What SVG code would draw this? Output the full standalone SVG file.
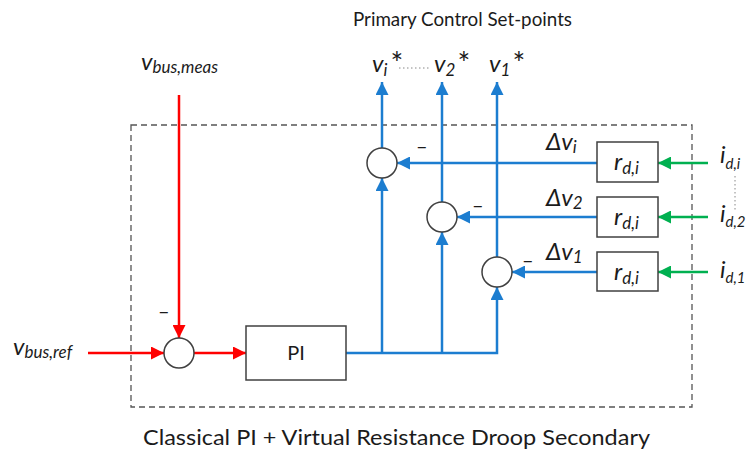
<svg xmlns="http://www.w3.org/2000/svg" width="747" height="457" viewBox="0 0 747 457">
<style>
  .t{font-family:Lato,"Liberation Sans",sans-serif;fill:#1b1b1b}
  .m{font-family:Lato,"Liberation Sans",sans-serif;font-style:italic;fill:#1b1b1b;font-size:24px}
  .s{font-size:17px}
  .si{font-size:15px}
  .ast{font-style:normal;font-size:30px}
  .minus{font-family:Lato,"Liberation Sans",sans-serif;font-size:20px;fill:#1b1b1b}
  .blk{fill:#fff;stroke:#404040;stroke-width:1.5}
  .sum{fill:#fff;stroke:#404040;stroke-width:1.5}
  .red{fill:none;stroke:#ff0000;stroke-width:2.5}
  .blue{fill:none;stroke:#1c7dd0;stroke-width:2.5}
  .green{fill:none;stroke:#00b050;stroke-width:2.5}
  .dot{fill:none;stroke:#888;stroke-width:1;stroke-dasharray:1.5 2.5}
</style>
<defs>
  <marker id="ar" markerUnits="userSpaceOnUse" markerWidth="13" markerHeight="13" refX="13" refY="6.5" orient="auto"><path d="M0,0 L13,6.5 L0,13 z" fill="#ff0000"/></marker>
  <marker id="ab" markerUnits="userSpaceOnUse" markerWidth="13" markerHeight="13" refX="13" refY="6.5" orient="auto"><path d="M0,0 L13,6.5 L0,13 z" fill="#1c7dd0"/></marker>
  <marker id="ag" markerUnits="userSpaceOnUse" markerWidth="13" markerHeight="13" refX="13" refY="6.5" orient="auto"><path d="M0,0 L13,6.5 L0,13 z" fill="#00b050"/></marker>
</defs>
<rect width="747" height="457" fill="#fff"/>

<rect id="boundary" x="131" y="125" width="561" height="282" fill="none" stroke="#555" stroke-width="1.3" stroke-dasharray="6 4"/>

<g id="connectors">
  <path class="red" d="M88,353 H164" marker-end="url(#ar)"/>
  <path class="red" d="M179,95 V338" marker-end="url(#ar)"/>
  <path class="red" d="M194,353 H246" marker-end="url(#ar)"/>
  <path class="blue" d="M346,353 H497 V287" marker-end="url(#ab)"/>
  <path class="blue" d="M382,353 V178" marker-end="url(#ab)"/>
  <path class="blue" d="M442,353 V232" marker-end="url(#ab)"/>
  <path class="blue" d="M382,148 V82" marker-end="url(#ab)"/>
  <path class="blue" d="M442,202 V82" marker-end="url(#ab)"/>
  <path class="blue" d="M497,257 V82" marker-end="url(#ab)"/>
  <path class="blue" d="M597,163 H397" marker-end="url(#ab)"/>
  <path class="blue" d="M597,217 H457" marker-end="url(#ab)"/>
  <path class="blue" d="M597,272 H512" marker-end="url(#ab)"/>
  <path class="green" d="M708,163 H658" marker-end="url(#ag)"/>
  <path class="green" d="M708,217 H658" marker-end="url(#ag)"/>
  <path class="green" d="M708,272 H658" marker-end="url(#ag)"/>
  <path class="dot" d="M399,68 H431"/>
  <path class="dot" d="M735,176 V210"/>
</g>

<g id="sum0"><circle class="sum" cx="179" cy="353" r="15"/><text class="minus" x="158" y="318">–</text></g>
<g id="pi"><rect class="blk" x="246" y="326" width="100" height="54"/><text class="t" x="296" y="360" font-size="20" text-anchor="middle">PI</text></g>
<g id="sum_i"><circle class="sum" cx="382" cy="163" r="15"/><text class="minus" x="416" y="153">–</text></g>
<g id="sum_2"><circle class="sum" cx="442" cy="217" r="15"/><text class="minus" x="472" y="212">–</text></g>
<g id="sum_1"><circle class="sum" cx="497" cy="272" r="15"/><text class="minus" x="522" y="267">–</text></g>

<g id="rd_i"><rect class="blk" x="597" y="142" width="61" height="40"/><text class="m" x="614" y="170">r<tspan class="s" dy="4">d,i</tspan></text></g>
<g id="rd_2"><rect class="blk" x="597" y="197" width="61" height="40"/><text class="m" x="614" y="225">r<tspan class="s" dy="4">d,i</tspan></text></g>
<g id="rd_1"><rect class="blk" x="597" y="252" width="61" height="39"/><text class="m" x="614" y="280">r<tspan class="s" dy="4">d,i</tspan></text></g>

<g id="labels">
  <text class="t" x="353" y="26" font-size="19" textLength="219" lengthAdjust="spacingAndGlyphs">Primary Control Set-points</text>
  <text class="m" x="141" y="70">v<tspan class="s" dy="3">bus,meas</tspan></text>
  <text class="m" x="13" y="355">v<tspan class="s" dy="3">bus,ref</tspan></text>
  <text class="m" x="372" y="72">v<tspan class="s" dy="4">i</tspan><tspan class="ast" dx="3" dy="-2">*</tspan></text>
  <text class="m" x="434" y="72">v<tspan class="s" dy="4">2</tspan><tspan class="ast" dx="2" dy="-2">*</tspan></text>
  <text class="m" x="489" y="72">v<tspan class="s" dy="4">1</tspan><tspan class="ast" dx="2" dy="-2">*</tspan></text>
  <text class="m" x="546" y="150">Δv<tspan class="s" dy="3">i</tspan></text>
  <text class="m" x="546" y="206">Δv<tspan class="s" dy="3">2</tspan></text>
  <text class="m" x="546" y="260">Δv<tspan class="s" dy="3">1</tspan></text>
  <text class="m" x="720" y="163">i<tspan class="si" dy="6">d,i</tspan></text>
  <text class="m" x="720" y="222">i<tspan class="si" dy="5">d,2</tspan></text>
  <text class="m" x="720" y="278">i<tspan class="si" dy="5">d,1</tspan></text>
  <text class="t" x="143" y="445" font-size="21" textLength="507" lengthAdjust="spacingAndGlyphs">Classical PI + Virtual Resistance Droop Secondary</text>
</g>
</svg>
